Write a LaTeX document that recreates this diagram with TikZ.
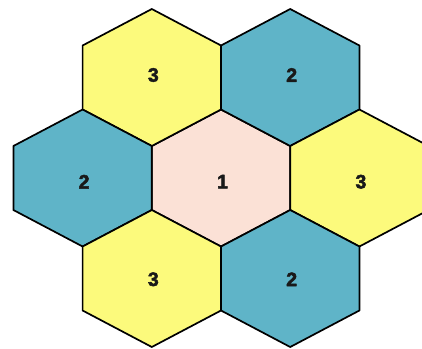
\documentclass[tikz,border=0pt]{standalone}
\usepackage{fontspec}
\setmainfont{Liberation Sans}
\newfontfamily\cellfont[FakeBold=2.5]{Liberation Sans Bold}
\definecolor{cellyellow}{HTML}{FCFA7C}
\definecolor{cellteal}{HTML}{5FB4C8}
\definecolor{cellpink}{HTML}{FBE1D6}
\tikzset{
  every picture/.style={line cap=round, line join=round},
  % hexagon cells, one style per label class
  cellone/.style={fill=cellpink, draw=black, line width=1.7pt},
  celltwo/.style={fill=cellteal, draw=black, line width=1.7pt},
  cellthree/.style={fill=cellyellow, draw=black, line width=1.7pt},
  digit/.style={font=\cellfont\fontsize{19.5}{19.5}\selectfont, text=black!90, inner sep=0pt},
}
\begin{document}
\begin{tikzpicture}[x=1pt, y=-1pt]
  \useasboundingbox (0,0) rectangle (422,348);
  \clip (0,0) rectangle (422,348);
  % ---------------- cells: centre x / centre y / style / label / label y / name
  \foreach \cx/\cy/\kind/\num/\ly/\id in {
      221/178/cellone/1/181.7/c,
      151.8/77.5/cellthree/3/75/nw,
      290.2/77.5/celltwo/2/75/ne,
      82.6/178/celltwo/2/181.7/w,
      359.4/178/cellthree/3/181.7/e,
      151.8/278.5/cellthree/3/279.3/sw,
      290.2/278.5/celltwo/2/279.3/se}
  {
    \filldraw[\kind] (\cx,\cy) ++(0,-68.5) -- ++(69.2,36.5) -- ++(0,64)
      -- ++(-69.2,36.5) -- ++(-69.2,-36.5) -- ++(0,-64) -- cycle;
    \node[digit] (cell-\id) at (\cx+1.5,\ly) {\num};
  }
\end{tikzpicture}
\end{document}
